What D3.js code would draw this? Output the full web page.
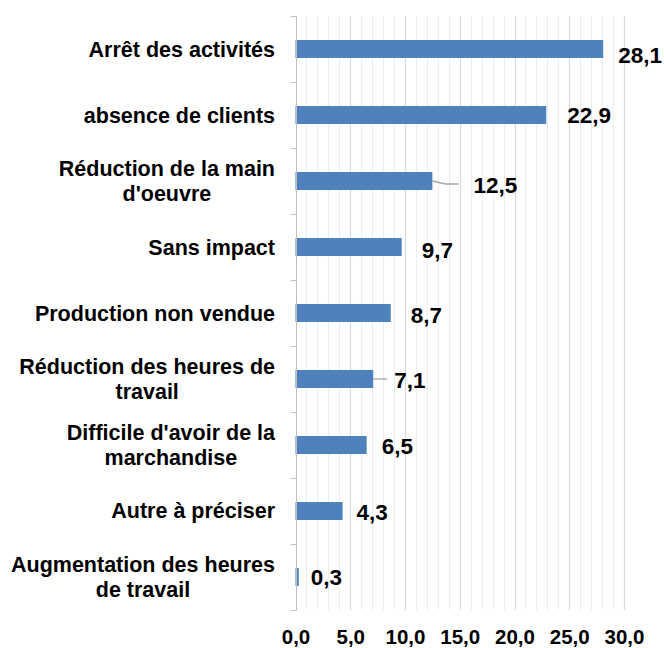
<!DOCTYPE html>
<html>
<head>
<meta charset="utf-8">
<script src="https://cdn.jsdelivr.net/npm/d3@7"></script>
<style>
  html, body { margin: 0; padding: 0; background: #fff; }
  svg { display: block; }
  text { font-family: "Liberation Sans", Arial, sans-serif; font-weight: bold; fill: #000; }
</style>
</head>
<body>
<svg id="chart" width="664" height="648"></svg>
<script>
const categories = [
  "Arrêt des activités",
  "absence de clients",
  "Réduction de la main d'oeuvre",
  "Sans impact",
  "Production non vendue",
  "Réduction des heures de travail",
  "Difficile d'avoir de la marchandise",
  "Autre à préciser",
  "Augmentation des heures de travail"
];
const values = [28.1, 22.9, 12.5, 9.7, 8.7, 7.1, 6.5, 4.3, 0.3];
const xTicks = [0, 5, 10, 15, 20, 25, 30];
const xMinorTicks = d3.range(1, 30).filter(v => v % 5 !== 0);

// label placement styling (per bar)
const labelDx = [15, 21, 41, 20, 20, 21, 15, 14, 12];
const labelDy = [6, 0, 4, 3, 2, 1, 1, 1, 0];
const leader = [null, null, "bent", null, null, "straight", null, null, null];

const fmt = v => v.toFixed(1).replace(".", ",");

const svg = d3.select("#chart");
const mLeft = 295.5, mRight = 624, mTop = 16, mBottom = 610;

const x = d3.scaleLinear().domain([0, 30]).range([mLeft, mRight]);
const y = d3.scaleBand().domain(categories).range([mTop, mBottom])
  .paddingInner(0.727).paddingOuter(0.3636);

// gridlines
svg.append("g").selectAll("line").data(xMinorTicks).join("line")
  .attr("x1", d => Math.round(x(d)) + 0.5).attr("x2", d => Math.round(x(d)) + 0.5)
  .attr("y1", mTop).attr("y2", mBottom)
  .attr("stroke", "#ededed").attr("stroke-width", 1);
svg.append("g").selectAll("line").data(xTicks.filter(d => d > 0)).join("line")
  .attr("x1", d => Math.round(x(d)) + 0.5).attr("x2", d => Math.round(x(d)) + 0.5)
  .attr("y1", mTop).attr("y2", mBottom)
  .attr("stroke", "#d9d9d9").attr("stroke-width", 1.2);

// x axis labels
const xAxis = d3.axisBottom(x).tickValues(xTicks).tickSize(0).tickPadding(19).tickFormat(fmt);
const gx = svg.append("g").attr("transform", `translate(0,${mBottom})`).call(xAxis);
gx.select(".domain").remove();
gx.selectAll("text").style("font-size", "20.5px").style("font-family", '"Liberation Sans", Arial, sans-serif').style("font-weight", "bold").attr("fill", "#000");

// bars
svg.append("g").selectAll("rect").data(values).join("rect")
  .attr("x", x(0))
  .attr("y", (d, i) => y(categories[i]))
  .attr("width", d => x(d) - x(0))
  .attr("height", y.bandwidth())
  .attr("fill", "#4f81bd");

// y axis line + boundary ticks
const ax = Math.round(x(0)) + 0.5;
svg.append("line").attr("x1", ax).attr("x2", ax).attr("y1", mTop).attr("y2", mBottom)
  .attr("stroke", "#bfbfbf").attr("stroke-width", 1);
const bounds = categories.map(c => y(c) + y.bandwidth() / 2 - y.step() / 2).concat([mBottom]);
svg.append("g").selectAll("line").data(bounds).join("line")
  .attr("x1", ax - 6).attr("x2", ax)
  .attr("y1", d => Math.round(d) + 0.5).attr("y2", d => Math.round(d) + 0.5)
  .attr("stroke", "#bfbfbf").attr("stroke-width", 1);

// leader lines
values.forEach((v, i) => {
  if (!leader[i]) return;
  const cy = y(categories[i]) + y.bandwidth() / 2;
  const x0 = x(v);
  let pts;
  if (leader[i] === "bent") pts = [[x0, cy], [x0 + 13, cy + 3], [x0 + 26, cy + 3]];
  else pts = [[x0, cy], [x0 + 14, cy]];
  svg.append("path").attr("d", d3.line()(pts)).attr("fill", "none")
    .attr("stroke", "#a6a6a6").attr("stroke-width", 1.3);
});

// value labels
svg.append("g").selectAll("text").data(values).join("text")
  .attr("x", (d, i) => x(d) + labelDx[i])
  .attr("y", (d, i) => y(categories[i]) + y.bandwidth() / 2 + labelDy[i])
  .attr("dy", "0.36em")
  .style("font-size", "22.5px")
  .text(fmt);

// category labels with wrapping
const labelRight = 275, maxW = 272, lineH = 25, catFont = "21.5px";
const measure = svg.append("text").style("font-size", catFont).attr("x", -1000).attr("y", -1000);
function width(s) { measure.text(s); return measure.node().getComputedTextLength(); }
categories.forEach((c, i) => {
  const words = c.split(" ");
  const lines = [];
  let cur = "";
  words.forEach(w => {
    const t = cur ? cur + " " + w : w;
    if (width(t) > maxW && cur) { lines.push(cur); cur = w; } else cur = t;
  });
  lines.push(cur);
  const blockW = d3.max(lines, width);
  const cx = labelRight - blockW / 2;
  const cy = y(c) + y.bandwidth() / 2;
  const first = cy + 7.5 - (lines.length - 1) * lineH / 2;
  const t = svg.append("text").style("font-size", catFont).attr("text-anchor", "middle");
  lines.forEach((l, k) => {
    t.append("tspan").attr("x", cx).attr("y", first + k * lineH).text(l);
  });
});
measure.remove();
</script>
</body>
</html>
